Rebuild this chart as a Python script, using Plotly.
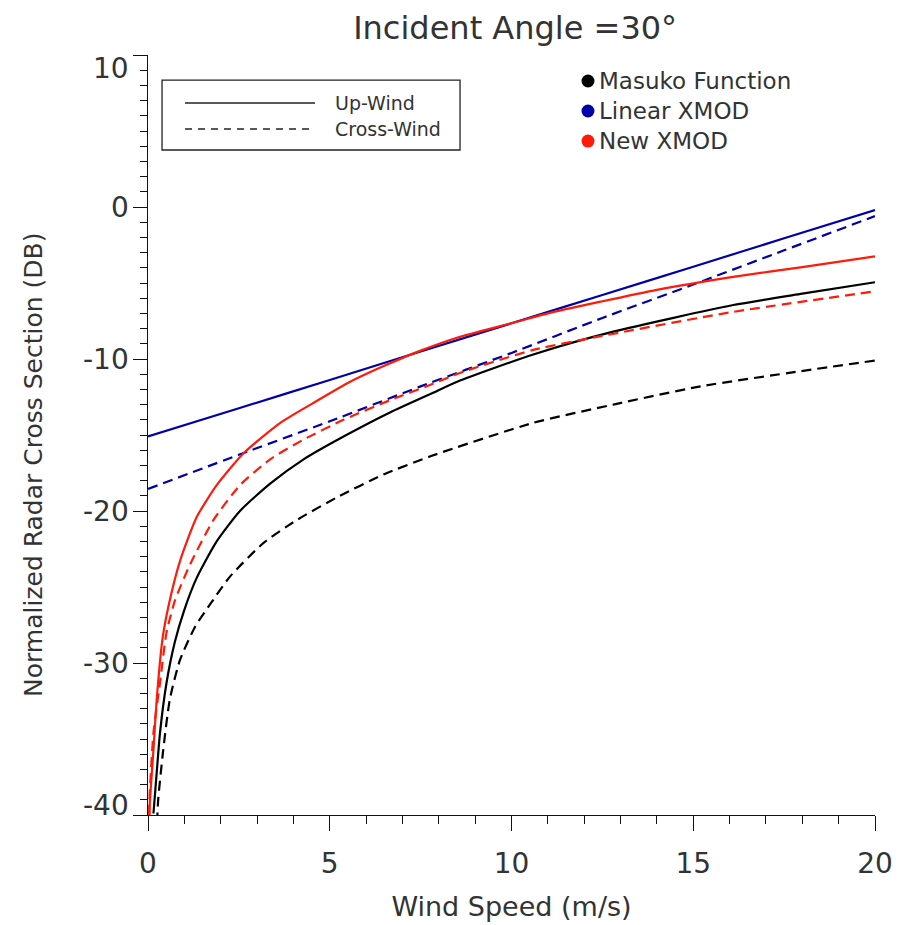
import plotly.graph_objects as go

# ---- data ----
masuko_up_x = [0.15, 0.24, 0.33, 0.51, 0.74, 1.0, 1.34, 1.89, 2.53, 3.36, 4.28, 5.38, 6.67, 7.77, 8.6, 10.6, 12.8, 16.1, 18.0, 20.0]
masuko_up_y = [-39.9, -37.2, -34.6, -31.3, -28.6, -26.5, -24.4, -22.0, -20.0, -18.2, -16.6, -15.1, -13.5, -12.3, -11.4, -9.7, -8.2, -6.45, -5.7, -4.95]

masuko_cross_x = [0.25, 0.28, 0.42, 0.6, 0.88, 1.3, 1.75, 2.26, 3.18, 4.09, 5.2, 6.48, 7.77, 10.6, 12.8, 15.2, 17.96, 20.0]
masuko_cross_y = [-40.5, -39.0, -35.7, -32.4, -29.8, -27.6, -26.0, -24.3, -22.1, -20.6, -19.1, -17.6, -16.4, -14.2, -13.0, -11.8, -10.8, -10.1]

linear_up_x = [0, 2.5, 5, 7.5, 10, 12.5, 15, 17.5, 20]
linear_up_y = [-15.1, -13.24, -11.38, -9.51, -7.65, -5.79, -3.93, -2.06, -0.2]

linear_cross_x = [0, 2.5, 5, 7.5, 10, 12.5, 15, 17.5, 20]
linear_cross_y = [-18.55, -16.3, -14.1, -11.8, -9.6, -7.3, -5.1, -2.85, -0.6]

new_up_x = [0.04, 0.055, 0.15, 0.24, 0.4, 0.56, 0.88, 1.34, 1.89, 2.63, 3.64, 4.65, 5.56, 6.5, 7.5, 8.5, 10.0, 11.0, 12.45, 14.0, 16.1, 18.0, 20.0]
new_up_y = [-40.0, -39.0, -35.7, -32.4, -28.4, -26.3, -23.3, -20.4, -18.3, -16.2, -14.2, -12.75, -11.5, -10.45, -9.45, -8.6, -7.65, -7.0, -6.23, -5.45, -4.6, -3.95, -3.25]

new_cross_x = [0.03, 0.04, 0.15, 0.33, 0.51, 0.74, 1.16, 1.8, 2.53, 3.36, 4.28, 5.38, 6.67, 7.77, 8.6, 10.6, 12.45, 16.1, 20.0]
new_cross_y = [-40.0, -39.0, -34.6, -31.3, -28.0, -25.9, -23.5, -20.6, -18.3, -16.6, -15.3, -14.0, -12.7, -11.7, -10.9, -9.4, -8.5, -6.9, -5.55]

x_ticks = [0, 5, 10, 15, 20]
y_ticks = [-40, -30, -20, -10, 0, 10]
y_labels = ["-40", "-30", "-20", "-10", "0", "10"]

BLACK = "#000000"
BLUE = "#0000a8"
RED = "#ff1a0a"
FONT = "DejaVu Sans"
TXT = "#333333"
DASH = "10px,6px"

fig = go.Figure()

def add(x, y, color, dash):
    fig.add_trace(go.Scatter(x=x, y=y, mode="lines",
                             line=dict(color=color, width=2.2, dash=dash,
                                       shape="spline", smoothing=0.6),
                             showlegend=False, hoverinfo="skip"))

add(masuko_up_x, masuko_up_y, BLACK, "solid")
add(masuko_cross_x, masuko_cross_y, BLACK, DASH)
add(linear_up_x, linear_up_y, BLUE, "solid")
add(linear_cross_x, linear_cross_y, BLUE, DASH)
add(new_up_x, new_up_y, RED, "solid")
add(new_cross_x, new_cross_y, RED, DASH)

# ---- line-style legend box ----
shapes = [
    dict(type="rect", xref="paper", yref="paper", x0=0.0193, x1=0.4292, y0=0.875, y1=0.967,
         line=dict(color="#222", width=1.3), fillcolor="white", layer="above"),
    dict(type="line", xref="paper", yref="paper", x0=0.0509, x1=0.2297, y0=0.9368, y1=0.9368,
         line=dict(color="#222", width=1.4)),
    dict(type="line", xref="paper", yref="paper", x0=0.0509, x1=0.2297, y0=0.9026, y1=0.9026,
         line=dict(color="#222", width=1.4, dash="7px,6px")),
]
annotations = [
    dict(text="Up-Wind", xref="paper", yref="paper", x=0.2545, y=0.9368, xanchor="left",
         yanchor="middle", showarrow=False, font=dict(family=FONT, size=19, color=TXT)),
    dict(text="Cross-Wind", xref="paper", yref="paper", x=0.2545, y=0.9026, xanchor="left",
         yanchor="middle", showarrow=False, font=dict(family=FONT, size=19, color=TXT)),
]

# ---- colour legend ----
for name, col, yy in [("Masuko Function", BLACK, 0.9658),
                      ("Linear XMOD", BLUE, 0.9263),
                      ("New XMOD", RED, 0.8868)]:
    shapes.append(dict(type="circle", xref="paper", yref="paper",
                       xsizemode="pixel", ysizemode="pixel",
                       xanchor=0.6052, yanchor=yy, x0=-6.5, x1=6.5, y0=-6.5, y1=6.5,
                       fillcolor=col, line=dict(color=col, width=0)))
    annotations.append(dict(text=name, xref="paper", yref="paper", x=0.6175, y=yy,
                            xanchor="left", yanchor="middle", showarrow=False,
                            font=dict(family=FONT, size=23, color=TXT)))

# ---- y tick labels (end labels sit inside the axis span, as in the reference) ----
for v, lab in zip(y_ticks, y_labels):
    shift = 0
    if v == y_ticks[0]:
        shift = 10
    elif v == y_ticks[-1]:
        shift = -13
    annotations.append(dict(text=lab, xref="paper", yref="y", x=0, y=v, xanchor="right",
                            yanchor="middle", xshift=-17, yshift=shift, showarrow=False,
                            font=dict(family=FONT, size=28, color=TXT)))

# ---- y axis title ----
annotations.append(dict(text="Normalized Radar Cross Section (DB)", xref="paper", yref="paper",
                        x=(33 - 148) / 727, y=(815 - 465) / 760, textangle=-90,
                        xanchor="center", yanchor="middle", showarrow=False,
                        font=dict(family=FONT, size=25, color=TXT)))

fig.update_layout(
    width=908, height=925,
    margin=dict(l=148, r=33, t=55, b=110, autoexpand=False),
    paper_bgcolor="white", plot_bgcolor="white",
    font=dict(family=FONT, color=TXT),
    title=dict(text="Incident Angle =30°", x=0.505, xref="paper", xanchor="center",
               y=1 - 28 / 925, yref="container", yanchor="middle",
               font=dict(family=FONT, size=32, color=TXT)),
    shapes=shapes, annotations=annotations,
)
fig.update_xaxes(
    range=[0, 20], tickvals=x_ticks, ticktext=[str(v) for v in x_ticks],
    automargin=False,
    showgrid=False, zeroline=False, showline=True, linecolor="#111", linewidth=1.4,
    ticks="outside", ticklen=15, tickwidth=1.4, tickcolor="#111",
    minor=dict(dtick=1, ticks="outside", ticklen=8, tickwidth=1.3, tickcolor="#111"),
    tickfont=dict(family=FONT, size=28, color=TXT), ticklabelstandoff=8,
    title=dict(text="Wind Speed (m/s)", font=dict(family=FONT, size=27, color=TXT), standoff=18),
)
fig.update_yaxes(
    range=[-40, 10], tickvals=y_ticks, showticklabels=False, automargin=False,
    showgrid=False, zeroline=False, showline=True, linecolor="#111", linewidth=1.4,
    ticks="outside", ticklen=14, tickwidth=1.4, tickcolor="#111",
    minor=dict(dtick=1, ticks="outside", ticklen=7, tickwidth=1.3, tickcolor="#111"),
)

fig.write_html("out.html")
